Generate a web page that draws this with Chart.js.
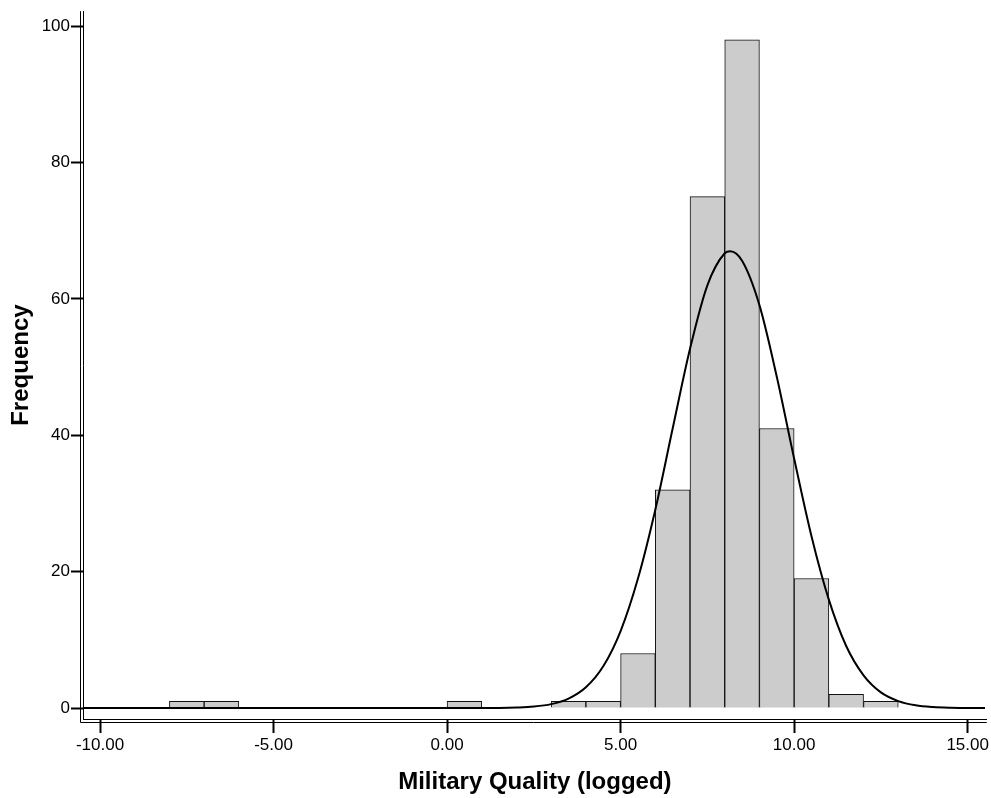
<!DOCTYPE html>
<html>
<head>
<meta charset="utf-8">
<script src="https://cdn.jsdelivr.net/npm/chart.js@4/dist/chart.umd.min.js"></script>
<style>
  html, body { margin: 0; padding: 0; background: #ffffff; }
  #wrap { width: 991px; height: 798px; }
</style>
</head>
<body>
<div id="wrap"><canvas id="c" width="991" height="798"></canvas></div>
<script>
// Histogram bins (width 1), given by their centres
const binCenters = [-7.5, -6.5, 0.5, 3.5, 4.5, 5.5, 6.5, 7.5, 8.5, 9.5, 10.5, 11.5, 12.5];
const frequencies = [1, 1, 1, 1, 1, 8, 32, 75, 98, 41, 19, 2, 1];

// Normal curve
const curveX = [-10.5, -5, 0, 1, 1.5, 2, 2.5, 3, 3.5, 4, 4.5, 5, 5.5, 6, 6.5, 7, 7.5, 8, 8.16, 8.5, 9, 9.5, 10, 10.5, 11, 11.5, 12, 12.5, 13, 13.5, 14, 14.5, 15, 15.5];
const curveY = [0, 0, 0, 0.01, 0.02, 0.08, 0.22, 0.58, 1.39, 3.05, 6.13, 11.3, 19.0, 29.1, 41.0, 52.7, 62.0, 66.7, 67.0, 65.6, 59.1, 48.6, 36.6, 25.2, 15.9, 9.1, 4.8, 2.3, 1.03, 0.41, 0.15, 0.05, 0.02, 0.01];

const xTicks = [-10, -5, 0, 5, 10, 15];
const yTicks = [0, 20, 40, 60, 80, 100];

const xTitle = 'Military Quality (logged)';
const yTitle = 'Frequency';

const barData = binCenters.map((x, i) => ({ x: x, y: frequencies[i] }));
const curveData = curveX.map((x, i) => ({ x: x, y: curveY[i] }));

const doubleAxis = {
  id: 'doubleAxis',
  afterDraw(chart) {
    const { ctx, chartArea } = chart;
    ctx.save();
    ctx.strokeStyle = '#000';
    ctx.lineWidth = 1;
    ctx.beginPath();
    ctx.moveTo(chartArea.left - 2.5, chartArea.top);
    ctx.lineTo(chartArea.left - 2.5, chartArea.bottom + 3.5);
    ctx.lineTo(chartArea.right, chartArea.bottom + 3.5);
    ctx.stroke();
    ctx.restore();
  }
};

const font = { family: '"Liberation Sans", Arial, sans-serif' };

new Chart(document.getElementById('c'), {
  data: {
    datasets: [
      {
        type: 'line',
        data: curveData,
        borderColor: '#000000',
        borderWidth: 2,
        pointRadius: 0,
        cubicInterpolationMode: 'monotone',
        fill: false,
        order: 0
      },
      {
        type: 'bar',
        data: barData,
        backgroundColor: '#cccccc',
        borderColor: '#111111',
        borderWidth: 1,
        barPercentage: 1,
        categoryPercentage: 1,
        grouped: false,
        order: 1
      }
    ]
  },
  options: {
    responsive: false,
    animation: false,
    layout: { padding: { top: 10, right: 3, left: 0, bottom: 0 } },
    plugins: { legend: { display: false }, tooltip: { enabled: false } },
    scales: {
      x: {
        type: 'linear',
        offset: false,
        min: -10.49,
        max: 15.55,
        afterBuildTicks: s => { s.ticks = xTicks.map(v => ({ value: v })); },
        afterFit: s => { s.height = 79; },
        border: { display: true, color: '#000', width: 1 },
        grid: { display: true, offset: false, drawOnChartArea: false, drawTicks: true, tickLength: 14, tickColor: '#000', tickWidth: 2 },
        ticks: {
          color: '#000',
          padding: 2,
          maxRotation: 0,
          autoSkip: false,
          font: { ...font, size: 17 },
          callback: v => Number(v).toFixed(2)
        },
        title: {
          display: true,
          text: xTitle,
          color: '#000',
          font: { ...font, size: 24, weight: 'bold' },
          padding: { top: 0, bottom: 1 }
        }
      },
      y: {
        type: 'linear',
        min: -1.6,
        max: 102.2,
        afterBuildTicks: s => { s.ticks = yTicks.map(v => ({ value: v })); },
        afterFit: s => { s.width = 83; },
        border: { display: true, color: '#000', width: 1 },
        grid: { display: true, drawOnChartArea: false, drawTicks: true, tickLength: 12, tickColor: '#000', tickWidth: 2 },
        ticks: {
          color: '#000',
          padding: 1,
          autoSkip: false,
          font: { ...font, size: 17 },
          callback: v => String(v)
        },
        title: {
          display: true,
          text: yTitle,
          color: '#000',
          font: { ...font, size: 24, weight: 'bold' },
          padding: { top: 7, bottom: 0 }
        }
      }
    }
  },
  plugins: [doubleAxis]
});
</script>
</body>
</html>
